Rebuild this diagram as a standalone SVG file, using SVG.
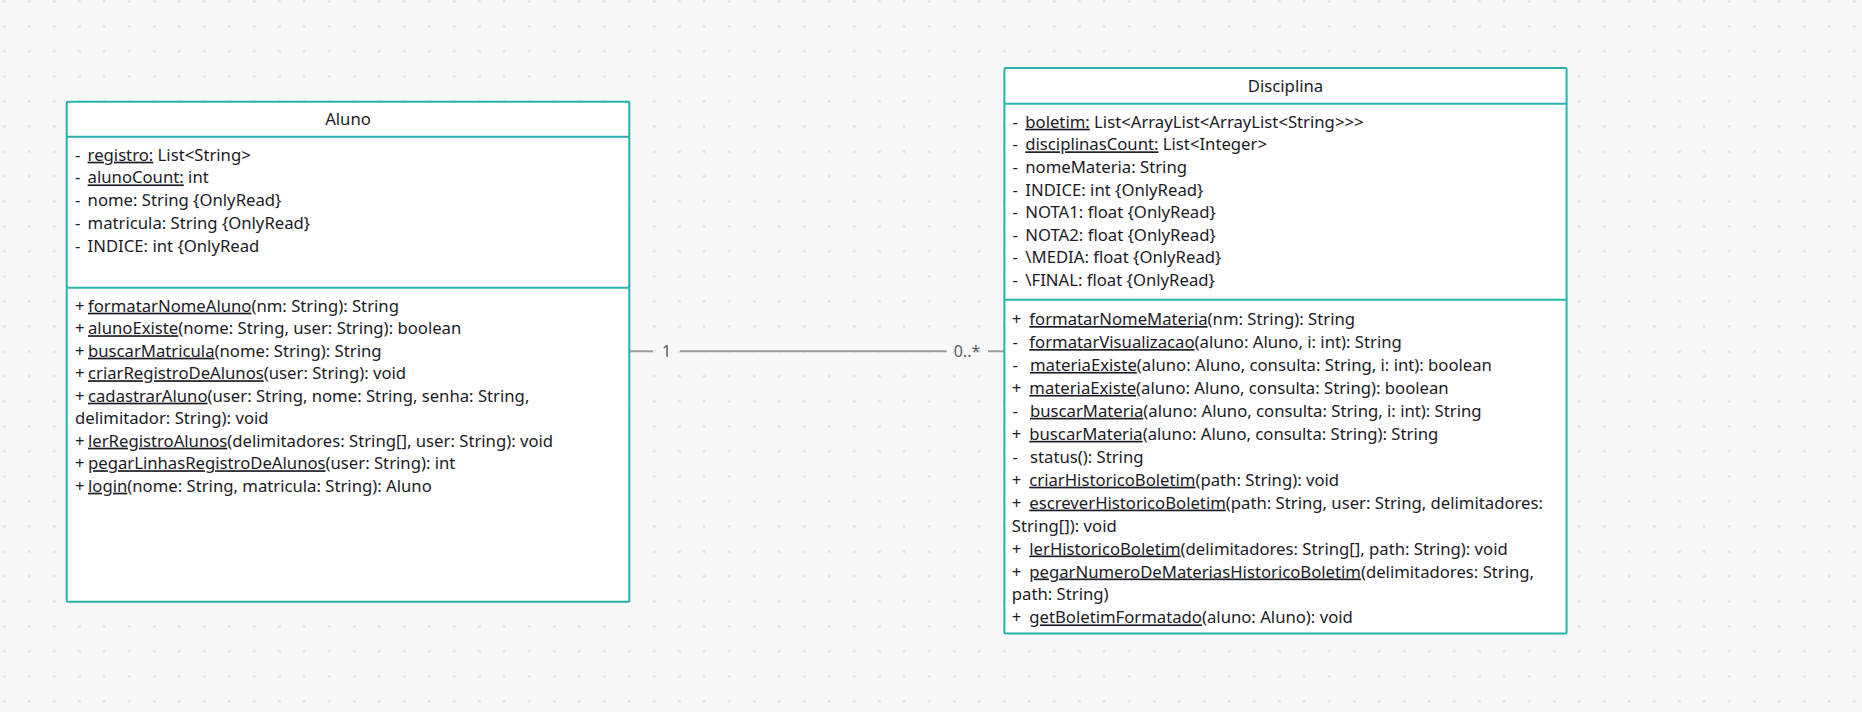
<svg xmlns="http://www.w3.org/2000/svg" width="1862" height="712" viewBox="0 0 1862 712">
  <defs>
    <pattern id="dots" patternUnits="userSpaceOnUse" x="-8.2" y="-11.2" width="25" height="25">
      <circle cx="12.5" cy="12.5" r="1.6" fill="#e2e2e7"/>
    </pattern>
    <style>
      .box { fill: #ffffff; stroke: #27b3ad; stroke-width: 2; }
      .sep { stroke: #27b3ad; stroke-width: 2; }
      .title { font-family: "Noto Sans", "Liberation Sans", sans-serif; font-size: 16.7px; fill: #1b1b26; text-anchor: middle; }
      .t { font-family: "Noto Sans", "Liberation Sans", sans-serif; font-size: 16.7px; fill: #1b1b26; }
      .u { text-decoration: underline; }
      .edge { stroke: #9a9a9e; stroke-width: 2; fill: none; }
      .lbl { font-family: "Noto Sans", "Liberation Sans", sans-serif; font-size: 16px; fill: #5a5a60; text-anchor: middle; }
    </style>
  </defs>

  <!-- canvas -->
  <rect width="1862" height="712" fill="#f8f8fa"/>
  <rect width="1862" height="712" fill="url(#dots)"/>

  <!-- association Aluno 1 — 0..* Disciplina -->
  <g id="connectors">
    <line class="edge" x1="629.3" y1="351.3" x2="653" y2="351.3"/>
    <line class="edge" x1="680" y1="351.3" x2="946.5" y2="351.3"/>
    <line class="edge" x1="988" y1="351.3" x2="1004.4" y2="351.3"/>
    <text class="lbl" x="666.7" y="357">1</text>
    <text class="lbl" x="967" y="357">0..*</text>
  </g>

  <!-- class Aluno -->
  <g id="aluno">
    <rect class="box" x="66.7" y="101.7" width="562.6" height="500" rx="1.5"/>
    <line class="sep" x1="66.7" y1="136.7" x2="629.3" y2="136.7"/>
    <line class="sep" x1="66.7" y1="287.7" x2="629.3" y2="287.7"/>
    <text class="title" x="348" y="125">Aluno</text>

    <text class="t" x="75" y="160.7">-<tspan x="87.6" class="u">registro:</tspan> List&lt;String&gt;</text>
    <text class="t" x="75" y="183.4">-<tspan x="87.6" class="u">alunoCount:</tspan> int</text>
    <text class="t" x="75" y="206.1">-<tspan x="87.6">nome: String {OnlyRead}</tspan></text>
    <text class="t" x="75" y="228.8">-<tspan x="87.6">matricula: String {OnlyRead}</tspan></text>
    <text class="t" x="75" y="251.5">-<tspan x="87.6">INDICE: int {OnlyRead</tspan></text>

    <text class="t" x="75" y="311.7">+<tspan x="88" class="u">formatarNomeAluno</tspan>(nm: String): String</text>
    <text class="t" x="75" y="334.2">+<tspan x="88" class="u">alunoExiste</tspan>(nome: String, user: String): boolean</text>
    <text class="t" x="75" y="356.7">+<tspan x="88" class="u">buscarMatricula</tspan>(nome: String): String</text>
    <text class="t" x="75" y="379.2">+<tspan x="88" class="u">criarRegistroDeAlunos</tspan>(user: String): void</text>
    <text class="t" x="75" y="401.7">+<tspan x="88" class="u">cadastrarAluno</tspan>(user: String, nome: String, senha: String,</text>
    <text class="t" x="75" y="424.2">delimitador: String): void</text>
    <text class="t" x="75" y="446.7">+<tspan x="88" class="u">lerRegistroAlunos</tspan>(delimitadores: String[], user: String): void</text>
    <text class="t" x="75" y="469.2">+<tspan x="88" class="u">pegarLinhasRegistroDeAlunos</tspan>(user: String): int</text>
    <text class="t" x="75" y="491.7">+<tspan x="88" class="u">login</tspan>(nome: String, matricula: String): Aluno</text>
  </g>

  <!-- class Disciplina -->
  <g id="disciplina">
    <rect class="box" x="1004.4" y="68" width="562.2" height="565.4" rx="1.5"/>
    <line class="sep" x1="1004.4" y1="103.7" x2="1566.6" y2="103.7"/>
    <line class="sep" x1="1004.4" y1="299.8" x2="1566.6" y2="299.8"/>
    <text class="title" x="1285.5" y="91.5">Disciplina</text>

    <text class="t" x="1012.5" y="127.7">-<tspan x="1025.3" class="u">boletim:</tspan> List&lt;ArrayList&lt;ArrayList&lt;String&gt;&gt;&gt;</text>
    <text class="t" x="1012.5" y="150.3">-<tspan x="1025.3" class="u">disciplinasCount:</tspan> List&lt;Integer&gt;</text>
    <text class="t" x="1012.5" y="172.9">-<tspan x="1025.3">nomeMateria: String</tspan></text>
    <text class="t" x="1012.5" y="195.5">-<tspan x="1025.3">INDICE: int {OnlyRead}</tspan></text>
    <text class="t" x="1012.5" y="218.1">-<tspan x="1025.3">NOTA1: float {OnlyRead}</tspan></text>
    <text class="t" x="1012.5" y="240.7">-<tspan x="1025.3">NOTA2: float {OnlyRead}</tspan></text>
    <text class="t" x="1012.5" y="263.3">-<tspan x="1025.3">\MEDIA: float {OnlyRead}</tspan></text>
    <text class="t" x="1012.5" y="285.9">-<tspan x="1025.3">\FINAL: float {OnlyRead}</tspan></text>

    <text class="t" x="1011.8" y="325">+<tspan x="1029.3" class="u">formatarNomeMateria</tspan>(nm: String): String</text>
    <text class="t" x="1012.5" y="348">-<tspan x="1029.3" class="u">formatarVisualizacao</tspan>(aluno: Aluno, i: int): String</text>
    <text class="t" x="1012.5" y="370.9">-<tspan x="1030" class="u">materiaExiste</tspan>(aluno: Aluno, consulta: String, i: int): boolean</text>
    <text class="t" x="1011.8" y="393.9">+<tspan x="1029.3" class="u">materiaExiste</tspan>(aluno: Aluno, consulta: String): boolean</text>
    <text class="t" x="1012.5" y="416.8">-<tspan x="1030" class="u">buscarMateria</tspan>(aluno: Aluno, consulta: String, i: int): String</text>
    <text class="t" x="1011.8" y="439.8">+<tspan x="1029.3" class="u">buscarMateria</tspan>(aluno: Aluno, consulta: String): String</text>
    <text class="t" x="1012.5" y="462.7">-<tspan x="1030">status(): String</tspan></text>
    <text class="t" x="1011.8" y="485.7">+<tspan x="1029.3" class="u">criarHistoricoBoletim</tspan>(path: String): void</text>
    <text class="t" x="1011.8" y="508.6">+<tspan x="1029.3" class="u">escreverHistoricoBoletim</tspan>(path: String, user: String, delimitadores:</text>
    <text class="t" x="1011.8" y="531.6">String[]): void</text>
    <text class="t" x="1011.8" y="554.5">+<tspan x="1029.3" class="u">lerHistoricoBoletim</tspan>(delimitadores: String[], path: String): void</text>
    <text class="t" x="1011.8" y="577.5">+<tspan x="1029.3" class="u">pegarNumeroDeMateriasHistoricoBoletim</tspan>(delimitadores: String,</text>
    <text class="t" x="1011.8" y="600.4">path: String)</text>
    <text class="t" x="1011.8" y="623.4">+<tspan x="1029.3" class="u">getBoletimFormatado</tspan>(aluno: Aluno): void</text>
  </g>
</svg>
